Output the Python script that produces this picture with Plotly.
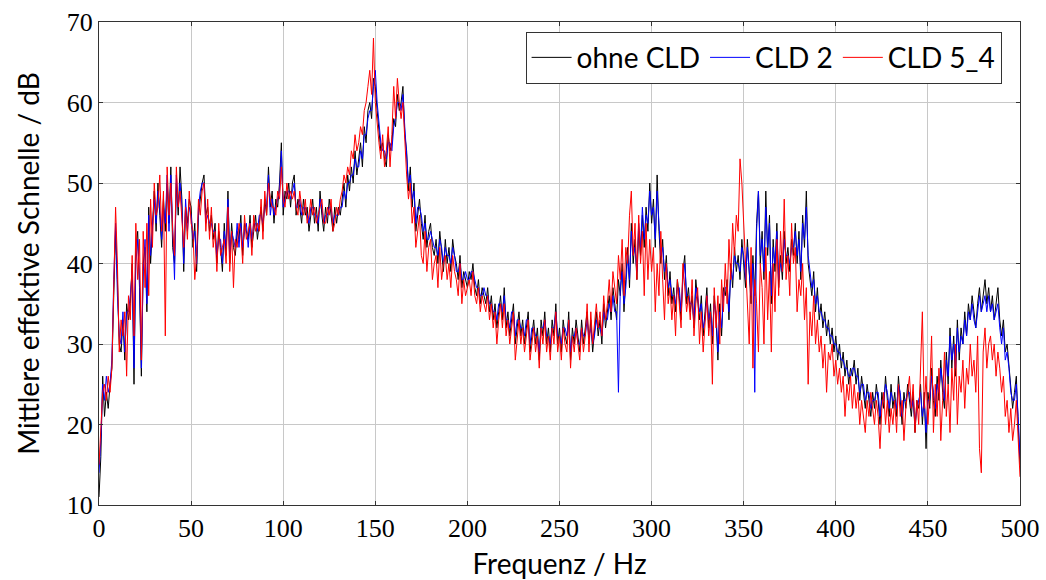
import plotly.graph_objects as go

# Frequency axis, 1 Hz steps from 0 to 500 Hz
freq = list(range(0, 501))

# Mean effective velocity level in dB, without damping layer
ohne_cld = [
    11, 16, 26, 21, 24, 22, 25, 27, 36, 44,
    38, 30, 29, 33, 28, 35, 33, 35, 40, 25,
    42, 44, 37, 26, 40, 42, 34, 47, 40, 45,
    49, 44, 50, 46, 42, 48, 44, 50, 45, 52,
    42, 40, 50, 46, 52, 48, 39, 47, 45, 48,
    47, 42, 45, 39, 46, 48, 50, 51, 46, 47,
    44, 46, 43, 45, 40, 44, 42, 39, 45, 41,
    49, 40, 45, 42, 41, 44, 43, 46, 41, 45,
    44, 43, 46, 42, 44, 46, 43, 45, 47, 44,
    48, 46, 52, 47, 49, 45, 48, 47, 50, 55,
    46, 49, 48, 50, 47, 50, 51, 46, 48, 47,
    45, 48, 46, 47, 44, 46, 48, 45, 47, 44,
    49, 46, 44, 47, 45, 48, 46, 44, 47, 45,
    47, 46, 48, 50, 47, 51, 49, 52, 50, 54,
    51, 53, 55, 52, 57, 55, 59, 60, 58, 63,
    62, 59, 56, 54, 55, 53, 52, 56, 54, 55,
    58, 57, 61, 59, 60, 62, 56, 54, 49, 52,
    47, 50, 44, 46, 48, 45, 43, 46, 42, 44,
    45, 42, 41, 43, 40, 44, 41, 39, 43, 40,
    42, 39, 43, 41, 40, 38, 41, 37, 39, 38,
    37, 39, 38, 40, 37, 36, 38, 35, 37, 36,
    35, 37, 34, 36, 33, 35, 32, 34, 36, 33,
    37, 32, 34, 31, 33, 35, 30, 32, 34, 31,
    33, 30, 32, 34, 29, 31, 33, 30, 32, 28,
    33, 31, 34, 30, 32, 29, 33, 31, 35, 30,
    32, 29, 33, 31, 30, 34, 28, 32, 30, 33,
    31, 29, 33, 30, 32, 34, 30, 33, 29, 32,
    34, 31, 33, 30, 35, 32, 34, 36, 33, 37,
    35, 33, 38, 36, 40, 34, 38, 42, 37, 45,
    40, 43, 38, 44, 41, 46, 42, 47, 44, 50,
    45, 48, 42, 51, 44, 40, 43, 38, 41, 36,
    39, 35, 37, 34, 38, 36, 33, 39, 41, 35,
    37, 34, 36, 32, 38, 35, 33, 36, 31, 34,
    37, 32, 35, 30, 36, 33, 28, 35, 31, 37,
    36, 38, 33, 40, 37, 42, 39, 41, 38, 43,
    40, 37, 43, 38, 35, 41, 36, 45, 49, 40,
    44, 38, 49, 41, 46, 35, 43, 39, 45, 37,
    41, 38, 44, 40, 42, 39, 43, 41, 45, 40,
    44, 38, 46, 42, 49, 40, 38, 36, 39, 34,
    37, 33, 35, 32, 34, 31, 33, 30, 32, 29,
    31, 28, 30, 27, 29, 26, 28, 25, 27, 26,
    28, 25, 27, 23, 26, 24, 22, 25, 23, 21,
    24, 22, 25, 23, 20, 24, 22, 26, 23, 21,
    25, 22, 24, 21, 26, 23, 20, 24, 22, 25,
    23, 21, 24, 19, 23, 22, 25, 20, 24, 17,
    24, 22, 27, 23, 21, 26, 23, 28, 24, 22,
    29, 25, 32, 27, 31, 26, 33, 28, 32, 30,
    34, 31, 35, 33, 36, 34, 32, 35, 37, 34,
    36, 38, 35, 37, 34, 36, 33, 35, 37, 33,
    31, 33, 29, 30, 27, 25, 22, 24, 26, 20,
    15,
]

# Damping layer variant CLD 2
cld_2 = [
    14, 18, 25, 23, 26, 24, 25, 28, 38, 45,
    36, 31, 30, 34, 29, 34, 34, 36, 39, 27,
    40, 43, 38, 27, 39, 43, 35, 46, 41, 44,
    48, 45, 49, 47, 43, 47, 45, 51, 44, 51,
    43, 38, 51, 47, 50, 47, 40, 48, 44, 47,
    46, 43, 44, 40, 47, 49, 50, 50, 45, 46,
    45, 45, 44, 44, 41, 43, 43, 40, 44, 42,
    48, 41, 44, 43, 42, 45, 42, 45, 42, 44,
    45, 42, 45, 43, 45, 45, 44, 46, 46, 45,
    47, 47, 51, 46, 48, 46, 47, 48, 49, 54,
    47, 48, 49, 49, 48, 49, 50, 47, 47, 48,
    46, 47, 47, 46, 45, 47, 47, 46, 46, 45,
    48, 47, 45, 46, 46, 47, 47, 45, 46, 46,
    46, 47, 47, 49, 48, 50, 50, 51, 51, 53,
    52, 52, 54, 53, 56, 56, 58, 59, 59, 62,
    64, 60, 57, 55, 54, 54, 53, 55, 55, 54,
    57, 58, 60, 60, 59, 61, 57, 53, 50, 51,
    48, 49, 45, 47, 47, 46, 44, 45, 43, 43,
    44, 43, 42, 42, 41, 43, 42, 40, 42, 41,
    41, 40, 42, 41, 39, 39, 40, 38, 38, 39,
    38, 38, 39, 39, 38, 37, 37, 36, 36, 37,
    36, 36, 35, 35, 34, 34, 33, 35, 35, 34,
    36, 33, 33, 32, 34, 34, 31, 33, 33, 32,
    32, 31, 33, 33, 30, 32, 32, 31, 31, 29,
    32, 32, 33, 31, 31, 30, 32, 32, 34, 31,
    31, 30, 32, 32, 31, 33, 29, 31, 31, 32,
    30, 30, 32, 31, 31, 33, 31, 32, 30, 31,
    33, 32, 32, 31, 34, 33, 33, 35, 34, 36,
    34, 34, 24, 37, 39, 35, 37, 41, 38, 44,
    41, 42, 39, 45, 42, 47, 43, 46, 45, 49,
    46, 47, 43, 49, 45, 41, 42, 39, 40, 37,
    38, 36, 36, 35, 37, 37, 34, 38, 40, 36,
    36, 35, 35, 33, 37, 36, 34, 35, 32, 33,
    36, 33, 34, 31, 35, 34, 29, 34, 32, 36,
    37, 37, 34, 39, 38, 41, 40, 40, 39, 42,
    41, 38, 42, 39, 36, 40, 24, 44, 49, 41,
    43, 39, 47, 42, 45, 36, 42, 40, 44, 38,
    40, 39, 43, 41, 41, 40, 42, 42, 44, 41,
    43, 39, 45, 43, 47, 41, 39, 37, 38, 35,
    36, 34, 34, 33, 33, 32, 32, 31, 31, 30,
    30, 29, 29, 28, 28, 27, 27, 26, 26, 27,
    27, 26, 26, 24, 25, 25, 23, 24, 24, 22,
    23, 23, 24, 24, 21, 23, 23, 25, 24, 22,
    24, 23, 23, 22, 25, 24, 21, 23, 23, 24,
    24, 22, 23, 20, 22, 23, 24, 21, 23, 19,
    23, 23, 26, 24, 22, 25, 24, 27, 25, 23,
    28, 26, 31, 28, 30, 27, 32, 29, 31, 30,
    33, 31, 34, 33, 35, 33, 32, 34, 36, 34,
    35, 36, 34, 36, 34, 35, 33, 34, 35, 32,
    30, 32, 28, 29, 27, 24, 23, 23, 25, 21,
    16,
]

# Damping layer variant CLD 5_4
cld_5_4 = [
    15, 20, 24, 25, 23, 26, 24, 27, 39, 47,
    40, 29, 33, 31, 34, 26, 36, 33, 41, 31,
    45, 38, 43, 28, 44, 37, 45, 36, 48, 42,
    50, 46, 47, 51, 44, 49, 31, 52, 46, 50,
    44, 41, 52, 47, 49, 46, 42, 47, 43, 49,
    45, 44, 38, 41, 48, 46, 49, 50, 44, 48,
    43, 47, 42, 44, 39, 45, 41, 42, 43, 40,
    47, 39, 44, 37, 43, 42, 45, 44, 40, 46,
    43, 44, 45, 41, 46, 44, 45, 44, 48, 43,
    49, 46, 50, 48, 47, 47, 46, 49, 48, 52,
    48, 47, 50, 48, 49, 48, 49, 47, 46, 49,
    47, 46, 48, 45, 46, 48, 46, 47, 45, 46,
    47, 48, 45, 45, 47, 46, 48, 44, 45, 47,
    46, 48, 49, 51, 50, 52, 51, 54, 53, 56,
    54, 55, 57, 56, 59, 60, 62, 64, 61, 68,
    60, 57, 55, 53, 56, 52, 54, 57, 52, 56,
    62, 58, 63, 60, 58, 60, 55, 51, 48, 50,
    45, 47, 42, 44, 46, 41, 40, 44, 39, 42,
    43, 38, 40, 41, 37, 42, 38, 40, 41, 38,
    40, 37, 41, 39, 38, 36, 40, 35, 38, 36,
    37, 38, 36, 39, 36, 35, 37, 34, 36, 35,
    34, 36, 33, 35, 32, 34, 30, 33, 35, 32,
    35, 31, 33, 30, 32, 34, 28, 31, 33, 30,
    32, 29, 31, 33, 28, 30, 32, 29, 31, 27,
    32, 30, 33, 29, 31, 28, 32, 30, 34, 29,
    31, 28, 32, 30, 29, 33, 27, 31, 29, 32,
    30, 28, 32, 29, 31, 35, 29, 34, 30, 33,
    35, 32, 34, 31, 36, 33, 35, 38, 34, 39,
    37, 35, 41, 38, 43, 36, 42, 40, 46, 49,
    41, 45, 38, 46, 40, 44, 36, 45, 38, 43,
    39, 42, 34, 40, 36, 44, 38, 33, 40, 35,
    37, 33, 36, 31, 38, 35, 32, 40, 37, 34,
    36, 33, 38, 31, 35, 37, 30, 34, 29, 33,
    36, 31, 34, 25, 37, 32, 36, 30, 38, 34,
    40, 35, 43, 38, 45, 41, 46, 44, 53, 50,
    45, 39, 36, 30, 42, 27, 38, 35, 29, 40,
    37, 30, 42, 33, 39, 29, 40, 34, 43, 36,
    44, 39, 48, 38, 41, 36, 45, 40, 42, 34,
    38, 36, 40, 33, 37, 25, 34, 31, 36, 30,
    33, 29, 31, 27, 30, 24, 29, 28, 30, 26,
    28, 25, 27, 24, 26, 21, 25, 23, 26, 22,
    25, 22, 24, 20, 23, 21, 19, 23, 21, 24,
    22, 20, 23, 21, 17, 22, 24, 20, 23, 19,
    22, 20, 23, 19, 25, 21, 23, 18, 22, 24,
    26, 22, 25, 19, 23, 20, 28, 34, 22, 26,
    20, 24, 31, 19, 25, 21, 27, 18, 23, 29,
    21, 25, 19, 27, 23, 30, 20, 26, 24, 28,
    22, 27, 25, 30, 26, 28, 24, 31, 17, 14,
    29, 32, 27, 30, 31, 28, 30, 26, 29, 27,
    24, 26, 21, 23, 19, 22, 18, 20, 23, 18,
    13.5,
]

series = [
    ("ohne CLD", ohne_cld, "black"),
    ("CLD 2", cld_2, "blue"),
    ("CLD 5_4", cld_5_4, "red"),
]

x_ticks = [0, 50, 100, 150, 200, 250, 300, 350, 400, 450, 500]
y_ticks = [10, 20, 30, 40, 50, 60, 70]

fig = go.Figure()
for name, values, color in series:
    fig.add_trace(go.Scatter(
        x=freq, y=values, mode="lines", name=name,
        line=dict(color=color, width=1),
    ))

serif = "Liberation Serif"
sans = "Lato"

axis_common = dict(
    showgrid=True, gridcolor="#c8c8c8", gridwidth=1,
    showline=True, linecolor="#333333", linewidth=1, mirror="allticks",
    ticks="inside", ticklen=4, tickcolor="#333333",
    zeroline=False, automargin=False,
    tickfont=dict(family=serif, size=26, color="black"),
)

fig.update_layout(
    width=1046, height=580,
    margin=dict(l=99, r=26, t=22, b=75),
    paper_bgcolor="white", plot_bgcolor="white",
    xaxis=dict(
        range=[0, 500], tickvals=x_ticks,
        title=dict(text="Frequenz / Hz", font=dict(family=sans, size=28, color="black"), standoff=14),
        **axis_common,
    ),
    yaxis=dict(
        range=[10, 70], tickvals=y_ticks,
        title=dict(text="Mittlere effektive Schnelle / dB", font=dict(family=sans, size=28, color="black"), standoff=18),
        **axis_common,
    ),
    legend=dict(
        orientation="h", x=0.98, xanchor="right", y=0.98, yanchor="top",
        bgcolor="white", bordercolor="#333333", borderwidth=1,
        font=dict(family=sans, size=28, color="black"),
        itemwidth=40, tracegroupgap=0,
    ),
    showlegend=True,
)

fig.write_html("out.html")
